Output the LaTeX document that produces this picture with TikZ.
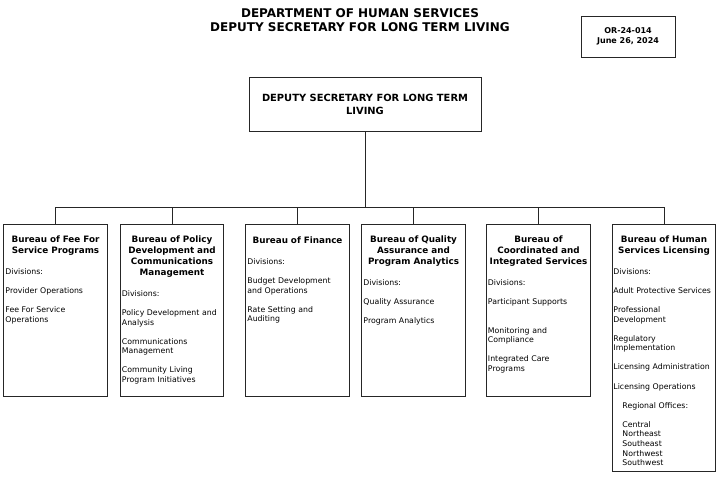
\documentclass[tikz,border=0pt]{standalone}
\usepackage{fontspec}
\setmainfont{DejaVu Sans}
\usetikzlibrary{positioning}

\begin{document}
\begin{tikzpicture}[
    x=1pt, y=-1pt,
    box/.style={rectangle, draw=black!85, line width=1pt, inner sep=0pt},
    bureau/.style={box, anchor=north, minimum width=103.5pt, minimum height=#1},
    bureau/.default=172pt,
    btitle/.style={inner sep=0pt, text width=103pt, align=center, font=\fontsize{8.8}{11}\selectfont\bfseries},
    divlist/.style={inner sep=0pt, anchor=north west, text width=101pt, align=left, font=\fontsize{7.8}{9.6}\selectfont},
    link/.style={draw=black!85, line width=1pt}
]
\useasboundingbox (0,0) rectangle (720,479);

% heading and order number
\node[align=center, font=\fontsize{12}{13.5}\selectfont\bfseries] (head) at (360,20)
    {DEPARTMENT OF HUMAN SERVICES\\DEPUTY SECRETARY FOR LONG TERM LIVING};
\node[box, minimum width=94pt, minimum height=41pt, align=center, font=\fontsize{8}{10}\selectfont\bfseries] (order) at (628,36.5)
    {OR-24-014\\June 26, 2024};

% deputy secretary
\node[box, anchor=north, minimum width=232pt, minimum height=54pt, align=center, font=\fontsize{9.9}{13}\selectfont\bfseries] (top) at (365,77)
    {DEPUTY SECRETARY FOR LONG TERM\\LIVING};

% bureaus
\node[bureau] (b1) at (55.5,224) {};
\node[bureau] (b2) at (172,224) {};
\node[bureau] (b3) at (297.5,224) {};
\node[bureau] (b4) at (413.5,224) {};
\node[bureau] (b5) at (538.5,224) {};
\node[bureau=247pt] (b6) at (664,224) {};

\node[btitle, below=11.5pt of b1.north] (t1) {Bureau of Fee For\\Service Programs\strut};
\node[btitle, below=11.5pt of b2.north] (t2) {Bureau of Policy\\Development and\\Communications\\Management\strut};
\node[btitle, below=11.5pt of b3.north] (t3) {Bureau of Finance\strut};
\node[btitle, below=11.5pt of b4.north] (t4) {Bureau of Quality\\Assurance and\\Program Analytics\strut};
\node[btitle, below=11.5pt of b5.north] (t5) {Bureau of\\Coordinated and\\Integrated Services\strut};
\node[btitle, below=11.5pt of b6.north] (t6) {Bureau of Human\\Services Licensing\strut};

\node[divlist, xshift=2pt, yshift=-10.5pt] (d1) at (t1.south -| b1.west)
    {\strut Divisions:\\[9.5pt] Provider Operations\\[9.5pt] Fee For Service\\Operations};
\node[divlist, xshift=2pt, yshift=-10.5pt] (d2) at (t2.south -| b2.west)
    {\strut Divisions:\\[9.5pt] Policy Development and\\Analysis\\[9.5pt] Communications\\Management\\[9.5pt] Community Living\\Program Initiatives};
\node[divlist, xshift=2pt, yshift=-10.5pt] (d3) at (t3.south -| b3.west)
    {\strut Divisions:\\[9.5pt] Budget Development\\and Operations\\[9.5pt] Rate Setting and\\Auditing};
\node[divlist, xshift=2pt, yshift=-10.5pt] (d4) at (t4.south -| b4.west)
    {\strut Divisions:\\[9.5pt] Quality Assurance\\[9.5pt] Program Analytics};
\node[divlist, xshift=1.5pt, yshift=-10.5pt] (d5) at (t5.south -| b5.west)
    {\strut Divisions:\\[9.5pt] Participant Supports\\[19pt] Monitoring and\\Compliance\\[9.5pt] Integrated Care\\Programs};
\node[divlist, xshift=1.5pt, yshift=-10.5pt] (d6) at (t6.south -| b6.west)
    {\strut Divisions:\\[9.5pt] Adult Protective Services\\[9.5pt] Professional\\Development\\[9.5pt] Regulatory\\Implementation\\[9.5pt] Licensing Administration\\[9.5pt] Licensing Operations\\[9.5pt]
     \hspace*{9pt}Regional Offices:\\[9.5pt] \hspace*{9pt}Central\\ \hspace*{9pt}Northeast\\ \hspace*{9pt}Southeast\\ \hspace*{9pt}Northwest\\ \hspace*{9pt}Southwest};

\foreach \b in {b1, b2, b3, b4, b5, b6}
    \draw[link] (top.south) -- ++(0,75) -| (\b.north);

\end{tikzpicture}
\end{document}
